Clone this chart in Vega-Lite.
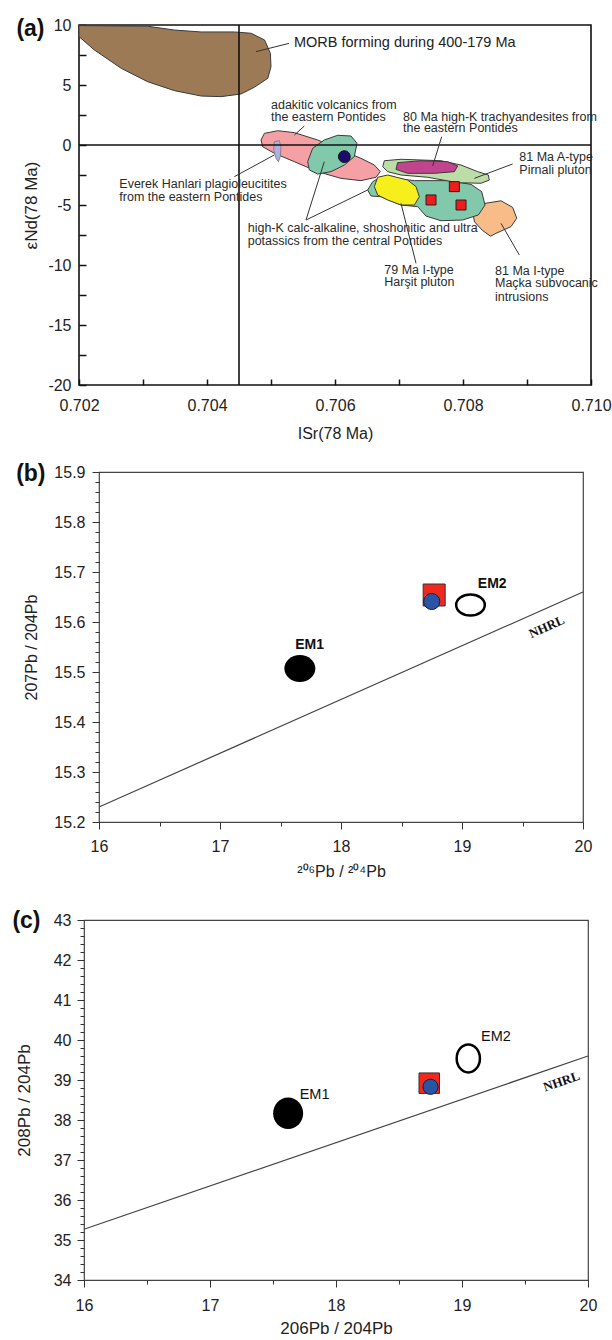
{
  "$schema": "https://vega.github.io/schema/vega-lite/v6.json",
  "padding": {"left": 0, "top": 16, "right": 0, "bottom": 0},
  "spacing": 19,
  "config": {
    "font": "Liberation Sans",
    "view": {"stroke": "#444", "strokeWidth": 1.2},
    "axis": {"labelFont": "Liberation Sans", "titleFont": "Liberation Sans", "labelColor": "#222", "titleColor": "#222", "titleFontWeight": "normal", "grid": false, "domain": false, "labelFlush": false, "labelOverlap": false, "labelFontSize": 16, "titleFontSize": 16, "tickColor": "#333"}
  },
  "datasets": {
    "poly": [
      {"p": "morb", "i": 1, "x": 0.702, "y": 9.95},
      {"p": "morb", "i": 2, "x": 0.70307, "y": 9.9},
      {"p": "morb", "i": 3, "x": 0.70349, "y": 9.58},
      {"p": "morb", "i": 4, "x": 0.70391, "y": 9.42},
      {"p": "morb", "i": 5, "x": 0.70443, "y": 9.42},
      {"p": "morb", "i": 6, "x": 0.70469, "y": 9.31},
      {"p": "morb", "i": 7, "x": 0.7049, "y": 8.75},
      {"p": "morb", "i": 8, "x": 0.70499, "y": 7.64},
      {"p": "morb", "i": 9, "x": 0.705, "y": 6.53},
      {"p": "morb", "i": 10, "x": 0.70495, "y": 5.56},
      {"p": "morb", "i": 11, "x": 0.70474, "y": 4.81},
      {"p": "morb", "i": 12, "x": 0.70453, "y": 4.25},
      {"p": "morb", "i": 13, "x": 0.70422, "y": 4.03},
      {"p": "morb", "i": 14, "x": 0.70391, "y": 4.08},
      {"p": "morb", "i": 15, "x": 0.70349, "y": 4.53},
      {"p": "morb", "i": 16, "x": 0.70307, "y": 5.28},
      {"p": "morb", "i": 17, "x": 0.70266, "y": 6.39},
      {"p": "morb", "i": 18, "x": 0.70224, "y": 7.92},
      {"p": "morb", "i": 19, "x": 0.702, "y": 9.03},
      {"p": "pink", "i": 1, "x": 0.704844, "y": 0.42},
      {"p": "pink", "i": 2, "x": 0.704896, "y": 0.97},
      {"p": "pink", "i": 3, "x": 0.705104, "y": 1.19},
      {"p": "pink", "i": 4, "x": 0.705365, "y": 1.03},
      {"p": "pink", "i": 5, "x": 0.705729, "y": 0.42},
      {"p": "pink", "i": 6, "x": 0.706094, "y": -0.42},
      {"p": "pink", "i": 7, "x": 0.706406, "y": -1.11},
      {"p": "pink", "i": 8, "x": 0.706615, "y": -1.67},
      {"p": "pink", "i": 9, "x": 0.706708, "y": -2.22},
      {"p": "pink", "i": 10, "x": 0.706641, "y": -2.69},
      {"p": "pink", "i": 11, "x": 0.706406, "y": -2.97},
      {"p": "pink", "i": 12, "x": 0.706094, "y": -2.78},
      {"p": "pink", "i": 13, "x": 0.705729, "y": -2.22},
      {"p": "pink", "i": 14, "x": 0.705365, "y": -1.39},
      {"p": "pink", "i": 15, "x": 0.705052, "y": -0.69},
      {"p": "pink", "i": 16, "x": 0.70487, "y": -0.14},
      {"p": "lav", "i": 1, "x": 0.705052, "y": 0.28},
      {"p": "lav", "i": 2, "x": 0.70513, "y": 0.36},
      {"p": "lav", "i": 3, "x": 0.705156, "y": -0.14},
      {"p": "lav", "i": 4, "x": 0.705146, "y": -0.97},
      {"p": "lav", "i": 5, "x": 0.705115, "y": -1.39},
      {"p": "lav", "i": 6, "x": 0.705078, "y": -1.11},
      {"p": "lav", "i": 7, "x": 0.705042, "y": -0.42},
      {"p": "teal1", "i": 1, "x": 0.705599, "y": -2.08},
      {"p": "teal1", "i": 2, "x": 0.705573, "y": -1.39},
      {"p": "teal1", "i": 3, "x": 0.705651, "y": -0.28},
      {"p": "teal1", "i": 4, "x": 0.705833, "y": 0.42},
      {"p": "teal1", "i": 5, "x": 0.706042, "y": 0.81},
      {"p": "teal1", "i": 6, "x": 0.70625, "y": 0.75},
      {"p": "teal1", "i": 7, "x": 0.706344, "y": 0.14},
      {"p": "teal1", "i": 8, "x": 0.706302, "y": -0.97},
      {"p": "teal1", "i": 9, "x": 0.706146, "y": -1.67},
      {"p": "teal1", "i": 10, "x": 0.705938, "y": -2.22},
      {"p": "teal1", "i": 11, "x": 0.705729, "y": -2.42},
      {"p": "orange", "i": 1, "x": 0.70815, "y": -5.6},
      {"p": "orange", "i": 2, "x": 0.7083, "y": -4.9},
      {"p": "orange", "i": 3, "x": 0.708594, "y": -4.65},
      {"p": "orange", "i": 4, "x": 0.708776, "y": -5.2},
      {"p": "orange", "i": 5, "x": 0.70884, "y": -6.1},
      {"p": "orange", "i": 6, "x": 0.70875, "y": -6.8},
      {"p": "orange", "i": 7, "x": 0.708516, "y": -7.36},
      {"p": "orange", "i": 8, "x": 0.70843, "y": -7.6},
      {"p": "orange", "i": 9, "x": 0.7083, "y": -7.1},
      {"p": "orange", "i": 10, "x": 0.70818, "y": -6.4},
      {"p": "teal2", "i": 1, "x": 0.70651, "y": -3.75},
      {"p": "teal2", "i": 2, "x": 0.706589, "y": -3.06},
      {"p": "teal2", "i": 3, "x": 0.706719, "y": -2.64},
      {"p": "teal2", "i": 4, "x": 0.70724, "y": -2.97},
      {"p": "teal2", "i": 5, "x": 0.70776, "y": -2.97},
      {"p": "teal2", "i": 6, "x": 0.708125, "y": -3.28},
      {"p": "teal2", "i": 7, "x": 0.708292, "y": -3.89},
      {"p": "teal2", "i": 8, "x": 0.708344, "y": -5.0},
      {"p": "teal2", "i": 9, "x": 0.70824, "y": -5.83},
      {"p": "teal2", "i": 10, "x": 0.707995, "y": -6.25},
      {"p": "teal2", "i": 11, "x": 0.707656, "y": -6.31},
      {"p": "teal2", "i": 12, "x": 0.707422, "y": -5.92},
      {"p": "teal2", "i": 13, "x": 0.707292, "y": -5.14},
      {"p": "teal2", "i": 14, "x": 0.707031, "y": -5.0},
      {"p": "teal2", "i": 15, "x": 0.706719, "y": -4.31},
      {"p": "teal2", "i": 16, "x": 0.706563, "y": -4.25},
      {"p": "yellow", "i": 1, "x": 0.706667, "y": -2.69},
      {"p": "yellow", "i": 2, "x": 0.706823, "y": -2.5},
      {"p": "yellow", "i": 3, "x": 0.707135, "y": -2.92},
      {"p": "yellow", "i": 4, "x": 0.707266, "y": -3.47},
      {"p": "yellow", "i": 5, "x": 0.707318, "y": -4.31},
      {"p": "yellow", "i": 6, "x": 0.70724, "y": -5.0},
      {"p": "yellow", "i": 7, "x": 0.707031, "y": -5.0},
      {"p": "yellow", "i": 8, "x": 0.706823, "y": -4.58},
      {"p": "yellow", "i": 9, "x": 0.706667, "y": -4.17},
      {"p": "yellow", "i": 10, "x": 0.706615, "y": -3.47},
      {"p": "lgreen", "i": 1, "x": 0.706771, "y": -1.31},
      {"p": "lgreen", "i": 2, "x": 0.707031, "y": -1.19},
      {"p": "lgreen", "i": 3, "x": 0.707656, "y": -1.31},
      {"p": "lgreen", "i": 4, "x": 0.707969, "y": -1.67},
      {"p": "lgreen", "i": 5, "x": 0.708229, "y": -2.22},
      {"p": "lgreen", "i": 6, "x": 0.708396, "y": -2.5},
      {"p": "lgreen", "i": 7, "x": 0.708411, "y": -2.92},
      {"p": "lgreen", "i": 8, "x": 0.708281, "y": -3.19},
      {"p": "lgreen", "i": 9, "x": 0.707917, "y": -3.14},
      {"p": "lgreen", "i": 10, "x": 0.707448, "y": -2.69},
      {"p": "lgreen", "i": 11, "x": 0.707031, "y": -2.5},
      {"p": "lgreen", "i": 12, "x": 0.706823, "y": -2.22},
      {"p": "lgreen", "i": 13, "x": 0.706745, "y": -1.81},
      {"p": "mag", "i": 1, "x": 0.706979, "y": -1.47},
      {"p": "mag", "i": 2, "x": 0.707344, "y": -1.31},
      {"p": "mag", "i": 3, "x": 0.70776, "y": -1.39},
      {"p": "mag", "i": 4, "x": 0.707917, "y": -1.75},
      {"p": "mag", "i": 5, "x": 0.707865, "y": -2.22},
      {"p": "mag", "i": 6, "x": 0.707552, "y": -2.36},
      {"p": "mag", "i": 7, "x": 0.707135, "y": -2.36},
      {"p": "mag", "i": 8, "x": 0.706953, "y": -2.03}
    ],
    "leadA": [
      {"x": 0.704766, "y": 7.78, "x2": 0.705281, "y2": 8.47},
      {"x": 0.705521, "y": 1.58, "x2": 0.705365, "y2": 0.83},
      {"x": 0.707667, "y": 0.69, "x2": 0.707526, "y2": -1.75},
      {"x": 0.708776, "y": -1.58, "x2": 0.708177, "y2": -2.78},
      {"x": 0.704427, "y": -2.64, "x2": 0.705052, "y2": -0.83},
      {"x": 0.705547, "y": -6.25, "x2": 0.705833, "y2": -1.39},
      {"x": 0.705547, "y": -6.25, "x2": 0.70651, "y2": -3.75},
      {"x": 0.707031, "y": -4.86, "x2": 0.707266, "y2": -9.86},
      {"x": 0.708594, "y": -6.53, "x2": 0.70888, "y2": -9.17}
    ],
    "textA": [
      {"x": 0.705, "y": 3.33, "t": "adakitic volcanics from"},
      {"x": 0.705, "y": 2.33, "t": "the eastern Pontides"},
      {"x": 0.707063, "y": 2.375, "t": "80 Ma high-K trachyandesites from"},
      {"x": 0.707063, "y": 1.42, "t": "the eastern Pontides"},
      {"x": 0.70888, "y": -0.97, "t": "81 Ma A-type"},
      {"x": 0.70888, "y": -2.08, "t": "Pirnali pluton"},
      {"x": 0.70263, "y": -3.25, "t": "Everek Hanlari plagioleucitites"},
      {"x": 0.70263, "y": -4.31, "t": "from the eastern Pontides"},
      {"x": 0.704636, "y": -6.94, "t": "high-K calc-alkaline, shoshonitic and ultra"},
      {"x": 0.704636, "y": -8.0, "t": "potassics from the central Pontides"},
      {"x": 0.70677, "y": -10.42, "t": "79 Ma I-type"},
      {"x": 0.70677, "y": -11.39, "t": "Harşit pluton"},
      {"x": 0.7085, "y": -10.47, "t": "81 Ma I-type"},
      {"x": 0.7085, "y": -11.53, "t": "Maçka subvocanic"},
      {"x": 0.7085, "y": -12.69, "t": "intrusions"}
    ]
  },
  "vconcat": [
    {
      "spacing": 0,
      "hconcat": [
        {"width": 15, "height": 300, "data": {"values": []}, "mark": "point", "view": {"stroke": null}},
        {
          "width": 512,
          "height": 360,
          "view": {"stroke": "#111", "strokeWidth": 1.6},
          "resolve": {"axis": {"y": "independent"}},
          "layer": [
            {
              "data": {"name": "poly"},
              "transform": [{"filter": "datum.p == 'morb'"}],
              "mark": {"type": "line", "interpolate": "linear-closed", "fill": "#9c7a56", "stroke": "#3a3a3a", "strokeWidth": 1},
              "encoding": {
                "x": {"field": "x", "type": "quantitative", "scale": {"domain": [0.702, 0.71], "nice": false, "zero": false},
                  "axis": {"title": "ISr(78 Ma)", "values": [0.702, 0.703, 0.704, 0.705, 0.706, 0.707, 0.708, 0.709, 0.71],
                    "labelExpr": "abs(round(datum.value*1000)) % 2 == 0 ? format(datum.value, '.3f') : ''",
                    "tickSize": -6, "tickWidth": 1.5, "tickColor": "#111", "labelPadding": 18, "titlePadding": 12, "labelOverlap": false}},
                "y": {"field": "y", "type": "quantitative", "scale": {"domain": [-20, 10], "nice": false, "zero": false},
                  "axis": {"title": "εNd(78 Ma)", "values": [-20, -17.5, -15, -12.5, -10, -7.5, -5, -2.5, 0, 2.5, 5, 7.5, 10],
                    "labelExpr": "datum.value % 5 == 0 ? '' + datum.value : ''",
                    "tickSize": -7, "tickWidth": 1.5, "tickColor": "#111", "labelPadding": 15, "titlePadding": 7, "titleFontSize": 17, "labelOverlap": false}},
                "order": {"field": "i", "type": "quantitative"}
              }
            },
            {"data": {"values": [{"y": 10}]}, "mark": {"type": "point", "opacity": 0},
              "encoding": {"y": {"field": "y", "type": "quantitative",
                "axis": {"orient": "left", "values": [10], "labelExpr": "'(a)'", "labelFontSize": 23, "labelFontWeight": "bold", "labelColor": "#111", "ticks": false, "domain": false, "title": null, "offset": 35, "labelPadding": 0, "labelOffset": 3, "labelOverlap": false}}}},
            {"data": {"name": "poly"}, "transform": [{"filter": "datum.p == 'pink'"}],
              "mark": {"type": "line", "interpolate": "linear-closed", "fill": "#f4a0a4", "stroke": "#3a3a3a", "strokeWidth": 1},
              "encoding": {"x": {"field": "x", "type": "quantitative"}, "y": {"field": "y", "type": "quantitative", "axis": null}, "order": {"field": "i", "type": "quantitative"}}},
            {"data": {"name": "poly"}, "transform": [{"filter": "datum.p == 'lav'"}],
              "mark": {"type": "line", "interpolate": "linear-closed", "fill": "#b4aee0", "stroke": "#777", "strokeWidth": 0.8},
              "encoding": {"x": {"field": "x", "type": "quantitative"}, "y": {"field": "y", "type": "quantitative", "axis": null}, "order": {"field": "i", "type": "quantitative"}}},
            {"data": {"name": "poly"}, "transform": [{"filter": "datum.p == 'teal1'"}],
              "mark": {"type": "line", "interpolate": "linear-closed", "fill": "#82c9ac", "stroke": "#3a3a3a", "strokeWidth": 1},
              "encoding": {"x": {"field": "x", "type": "quantitative"}, "y": {"field": "y", "type": "quantitative", "axis": null}, "order": {"field": "i", "type": "quantitative"}}},
            {"data": {"name": "poly"}, "transform": [{"filter": "datum.p == 'orange'"}],
              "mark": {"type": "line", "interpolate": "linear-closed", "fill": "#f8bc88", "stroke": "#3a3a3a", "strokeWidth": 1},
              "encoding": {"x": {"field": "x", "type": "quantitative"}, "y": {"field": "y", "type": "quantitative", "axis": null}, "order": {"field": "i", "type": "quantitative"}}},
            {"data": {"name": "poly"}, "transform": [{"filter": "datum.p == 'teal2'"}],
              "mark": {"type": "line", "interpolate": "linear-closed", "fill": "#82c9ac", "stroke": "#3a3a3a", "strokeWidth": 1},
              "encoding": {"x": {"field": "x", "type": "quantitative"}, "y": {"field": "y", "type": "quantitative", "axis": null}, "order": {"field": "i", "type": "quantitative"}}},
            {"data": {"name": "poly"}, "transform": [{"filter": "datum.p == 'yellow'"}],
              "mark": {"type": "line", "interpolate": "linear-closed", "fill": "#f7ef1c", "stroke": "#3a3a3a", "strokeWidth": 1},
              "encoding": {"x": {"field": "x", "type": "quantitative"}, "y": {"field": "y", "type": "quantitative", "axis": null}, "order": {"field": "i", "type": "quantitative"}}},
            {"data": {"name": "poly"}, "transform": [{"filter": "datum.p == 'lgreen'"}],
              "mark": {"type": "line", "interpolate": "linear-closed", "fill": "#bcdca8", "stroke": "#3a3a3a", "strokeWidth": 1},
              "encoding": {"x": {"field": "x", "type": "quantitative"}, "y": {"field": "y", "type": "quantitative", "axis": null}, "order": {"field": "i", "type": "quantitative"}}},
            {"data": {"name": "poly"}, "transform": [{"filter": "datum.p == 'mag'"}],
              "mark": {"type": "line", "interpolate": "linear-closed", "fill": "#c2448e", "stroke": "#3a3a3a", "strokeWidth": 1},
              "encoding": {"x": {"field": "x", "type": "quantitative"}, "y": {"field": "y", "type": "quantitative", "axis": null}, "order": {"field": "i", "type": "quantitative"}}},
            {"data": {"values": [{"y": 0}]}, "mark": {"type": "rule", "color": "#111", "strokeWidth": 1.6},
              "encoding": {"y": {"field": "y", "type": "quantitative", "axis": null}}},
            {"data": {"values": [{"x": 0.7045}]}, "mark": {"type": "rule", "color": "#111", "strokeWidth": 1.6},
              "encoding": {"x": {"field": "x", "type": "quantitative"}}},
            {"data": {"name": "leadA"}, "mark": {"type": "rule", "color": "#333", "strokeWidth": 1},
              "encoding": {"x": {"field": "x", "type": "quantitative"}, "y": {"field": "y", "type": "quantitative", "axis": null}, "x2": {"field": "x2"}, "y2": {"field": "y2"}}},
            {"data": {"values": [{"x": 0.706146, "y": -0.97}]},
              "mark": {"type": "point", "shape": "circle", "filled": true, "size": 140, "color": "#1c0c6e", "stroke": "#111", "strokeWidth": 1, "opacity": 1},
              "encoding": {"x": {"field": "x", "type": "quantitative"}, "y": {"field": "y", "type": "quantitative", "axis": null}}},
            {"data": {"values": [{"x": 0.707865, "y": -3.47}, {"x": 0.7075, "y": -4.58}, {"x": 0.707969, "y": -5.0}]},
              "mark": {"type": "point", "shape": "square", "filled": true, "size": 100, "color": "#f01c1c", "stroke": "#222", "strokeWidth": 1, "opacity": 1},
              "encoding": {"x": {"field": "x", "type": "quantitative"}, "y": {"field": "y", "type": "quantitative", "axis": null}}},
            {"data": {"values": [{"x": 0.705359, "y": 8.5, "t": "MORB forming during 400-179 Ma"}]},
              "mark": {"type": "text", "align": "left", "baseline": "middle", "fontSize": 14.5, "color": "#222"},
              "encoding": {"x": {"field": "x", "type": "quantitative"}, "y": {"field": "y", "type": "quantitative", "axis": null}, "text": {"field": "t"}}},
            {"data": {"name": "textA"},
              "mark": {"type": "text", "align": "left", "baseline": "middle", "fontSize": 12.5, "color": "#2a2a2a"},
              "encoding": {"x": {"field": "x", "type": "quantitative"}, "y": {"field": "y", "type": "quantitative", "axis": null}, "text": {"field": "t"}}}
          ]
        }
      ]
    },
    {
      "spacing": 0,
      "hconcat": [
        {"width": 15, "height": 417, "data": {"values": []}, "mark": "point", "view": {"stroke": null}},
        {
          "width": 484,
          "height": 350,
          "resolve": {"axis": {"y": "independent"}},
          "layer": [
            {"data": {"values": [{"x": 16, "y": 15.23, "x2": 20, "y2": 15.66}]},
              "mark": {"type": "rule", "color": "#444", "strokeWidth": 1.2},
              "encoding": {
                "x": {"field": "x", "type": "quantitative", "scale": {"domain": [16, 20], "nice": false, "zero": false},
                  "axis": {"title": "²⁰⁶Pb / ²⁰⁴Pb", "values": [16, 16.25, 16.5, 16.75, 17, 17.25, 17.5, 17.75, 18, 18.25, 18.5, 18.75, 19, 19.25, 19.5, 19.75, 20],
                    "labelExpr": "datum.value % 1 == 0 ? '' + datum.value : ''",
                    "tickSize": {"condition": {"test": "datum.value % 1 == 0", "value": 7}, "value": 4}, "labelPadding": 9, "titlePadding": 9, "labelOverlap": false}},
                "y": {"field": "y", "type": "quantitative", "scale": {"domain": [15.2, 15.9], "nice": false, "zero": false},
                  "axis": {"title": "207Pb / 204Pb", "values": [15.2, 15.22, 15.24, 15.26, 15.28, 15.3, 15.32, 15.34, 15.36, 15.38, 15.4, 15.42, 15.44, 15.46, 15.48, 15.5, 15.52, 15.54, 15.56, 15.58, 15.6, 15.62, 15.64, 15.66, 15.68, 15.7, 15.72, 15.74, 15.76, 15.78, 15.8, 15.82, 15.84, 15.86, 15.88, 15.9],
                    "labelExpr": "abs(datum.value*10 - round(datum.value*10)) < 0.01 ? format(datum.value, '.1f') : ''",
                    "tickSize": {"condition": {"test": "abs(datum.value*10 - round(datum.value*10)) < 0.01", "value": 7}, "value": 4}, "labelPadding": 7, "titlePadding": 14, "labelOverlap": false}},
                "x2": {"field": "x2"}, "y2": {"field": "y2"}
              }
            },
            {"data": {"values": [{"y": 15.9}]}, "mark": {"type": "point", "opacity": 0},
              "encoding": {"y": {"field": "y", "type": "quantitative",
                "axis": {"orient": "left", "values": [15.9], "labelExpr": "'(b)'", "labelFontSize": 23, "labelFontWeight": "bold", "labelColor": "#111", "ticks": false, "domain": false, "title": null, "offset": 54, "labelPadding": 0, "labelOffset": 1, "labelOverlap": false}}}},
            {"data": {"values": [{"x": 17.66, "y": 15.507}]},
              "mark": {"type": "point", "shape": "M-1,0A1,0.87,0,1,1,1,0A1,0.87,0,1,1,-1,0Z", "filled": true, "size": 961, "color": "#000", "opacity": 1},
              "encoding": {"x": {"field": "x", "type": "quantitative"}, "y": {"field": "y", "type": "quantitative", "axis": null}}},
            {"data": {"values": [{"x": 19.07, "y": 15.634}]},
              "mark": {"type": "point", "shape": "M-1,0A1,0.73,0,1,1,1,0A1,0.73,0,1,1,-1,0Z", "filled": false, "size": 820, "color": "#000", "strokeWidth": 2.5, "opacity": 1},
              "encoding": {"x": {"field": "x", "type": "quantitative"}, "y": {"field": "y", "type": "quantitative", "axis": null}}},
            {"data": {"values": [{"x": 18.77, "y": 15.654}]},
              "mark": {"type": "point", "shape": "square", "filled": true, "size": 484, "color": "#f0281e", "stroke": "#333", "strokeWidth": 1, "opacity": 1},
              "encoding": {"x": {"field": "x", "type": "quantitative"}, "y": {"field": "y", "type": "quantitative", "axis": null}}},
            {"data": {"values": [{"x": 18.75, "y": 15.641}]},
              "mark": {"type": "point", "shape": "circle", "filled": true, "size": 260, "color": "#2a55a5", "stroke": "#1a1a3a", "strokeWidth": 1, "opacity": 1},
              "encoding": {"x": {"field": "x", "type": "quantitative"}, "y": {"field": "y", "type": "quantitative", "axis": null}}},
            {"data": {"values": [{"x": 17.74, "y": 15.554, "t": "EM1"}, {"x": 19.25, "y": 15.677, "t": "EM2"}]},
              "mark": {"type": "text", "align": "center", "baseline": "middle", "fontSize": 14, "fontWeight": "bold", "color": "#111"},
              "encoding": {"x": {"field": "x", "type": "quantitative"}, "y": {"field": "y", "type": "quantitative", "axis": null}, "text": {"field": "t"}}},
            {"data": {"values": [{"x": 19.7, "y": 15.59, "t": "NHRL"}]},
              "mark": {"type": "text", "align": "center", "baseline": "middle", "fontSize": 13, "fontWeight": "bold", "font": "Liberation Serif", "angle": 336, "color": "#111"},
              "encoding": {"x": {"field": "x", "type": "quantitative"}, "y": {"field": "y", "type": "quantitative", "axis": null}, "text": {"field": "t"}}}
          ]
        }
      ]
    },
    {
      "spacing": 0,
      "hconcat": [
        {"width": 11, "height": 300, "data": {"values": []}, "mark": "point", "view": {"stroke": null}},
        {
          "width": 504,
          "height": 360,
          "resolve": {"axis": {"y": "independent"}},
          "layer": [
            {"data": {"values": [{"x": 16, "y": 35.27, "x2": 20, "y2": 39.6}]},
              "mark": {"type": "rule", "color": "#444", "strokeWidth": 1.2},
              "encoding": {
                "x": {"field": "x", "type": "quantitative", "scale": {"domain": [16, 20], "nice": false, "zero": false},
                  "axis": {"title": "206Pb / 204Pb", "values": [16, 16.25, 16.5, 16.75, 17, 17.25, 17.5, 17.75, 18, 18.25, 18.5, 18.75, 19, 19.25, 19.5, 19.75, 20],
                    "labelExpr": "datum.value % 1 == 0 ? '' + datum.value : ''",
                    "tickSize": {"condition": {"test": "datum.value % 1 == 0", "value": 7}, "value": 4}, "labelPadding": 10, "titlePadding": 7, "titleFontSize": 17, "labelOverlap": false}},
                "y": {"field": "y", "type": "quantitative", "scale": {"domain": [34, 43], "nice": false, "zero": false},
                  "axis": {"title": "208Pb / 204Pb", "values": [34, 34.2, 34.4, 34.6, 34.8, 35, 35.2, 35.4, 35.6, 35.8, 36, 36.2, 36.4, 36.6, 36.8, 37, 37.2, 37.4, 37.6, 37.8, 38, 38.2, 38.4, 38.6, 38.8, 39, 39.2, 39.4, 39.6, 39.8, 40, 40.2, 40.4, 40.6, 40.8, 41, 41.2, 41.4, 41.6, 41.8, 42, 42.2, 42.4, 42.6, 42.8, 43],
                    "labelExpr": "abs(datum.value - round(datum.value)) < 0.01 ? '' + round(datum.value) : ''",
                    "tickSize": {"condition": {"test": "abs(datum.value - round(datum.value)) < 0.01", "value": 7}, "value": 4}, "labelPadding": 6, "titlePadding": 20, "titleFontSize": 17, "labelOverlap": false}},
                "x2": {"field": "x2"}, "y2": {"field": "y2"}
              }
            },
            {"data": {"values": [{"y": 43}]}, "mark": {"type": "point", "opacity": 0},
              "encoding": {"y": {"field": "y", "type": "quantitative",
                "axis": {"orient": "left", "values": [43], "labelExpr": "'(c)'", "labelFontSize": 23, "labelFontWeight": "bold", "labelColor": "#111", "ticks": false, "domain": false, "title": null, "offset": 44, "labelPadding": 0, "labelOffset": 0, "labelOverlap": false}}}},
            {"data": {"values": [{"x": 17.62, "y": 38.17}]},
              "mark": {"type": "point", "shape": "M-0.95,0A0.95,1,0,1,1,0.95,0A0.95,1,0,1,1,-0.95,0Z", "filled": true, "size": 1000, "color": "#000", "opacity": 1},
              "encoding": {"x": {"field": "x", "type": "quantitative"}, "y": {"field": "y", "type": "quantitative", "axis": null}}},
            {"data": {"values": [{"x": 19.05, "y": 39.54}]},
              "mark": {"type": "point", "shape": "M-0.83,0A0.83,1,0,1,1,0.83,0A0.83,1,0,1,1,-0.83,0Z", "filled": false, "size": 784, "color": "#000", "strokeWidth": 2.5, "opacity": 1},
              "encoding": {"x": {"field": "x", "type": "quantitative"}, "y": {"field": "y", "type": "quantitative", "axis": null}}},
            {"data": {"values": [{"x": 18.74, "y": 38.92}]},
              "mark": {"type": "point", "shape": "square", "filled": true, "size": 420, "color": "#f0281e", "stroke": "#333", "strokeWidth": 1, "opacity": 1},
              "encoding": {"x": {"field": "x", "type": "quantitative"}, "y": {"field": "y", "type": "quantitative", "axis": null}}},
            {"data": {"values": [{"x": 18.75, "y": 38.83}]},
              "mark": {"type": "point", "shape": "circle", "filled": true, "size": 230, "color": "#2a55a5", "stroke": "#1a1a3a", "strokeWidth": 1, "opacity": 1},
              "encoding": {"x": {"field": "x", "type": "quantitative"}, "y": {"field": "y", "type": "quantitative", "axis": null}}},
            {"data": {"values": [{"x": 17.83, "y": 38.62, "t": "EM1"}, {"x": 19.27, "y": 40.08, "t": "EM2"}]},
              "mark": {"type": "text", "align": "center", "baseline": "middle", "fontSize": 14.5, "color": "#111"},
              "encoding": {"x": {"field": "x", "type": "quantitative"}, "y": {"field": "y", "type": "quantitative", "axis": null}, "text": {"field": "t"}}},
            {"data": {"values": [{"x": 19.79, "y": 38.96, "t": "NHRL"}]},
              "mark": {"type": "text", "align": "center", "baseline": "middle", "fontSize": 13, "fontWeight": "bold", "font": "Liberation Serif", "angle": 341, "color": "#111"},
              "encoding": {"x": {"field": "x", "type": "quantitative"}, "y": {"field": "y", "type": "quantitative", "axis": null}, "text": {"field": "t"}}}
          ]
        }
      ]
    }
  ]
}
